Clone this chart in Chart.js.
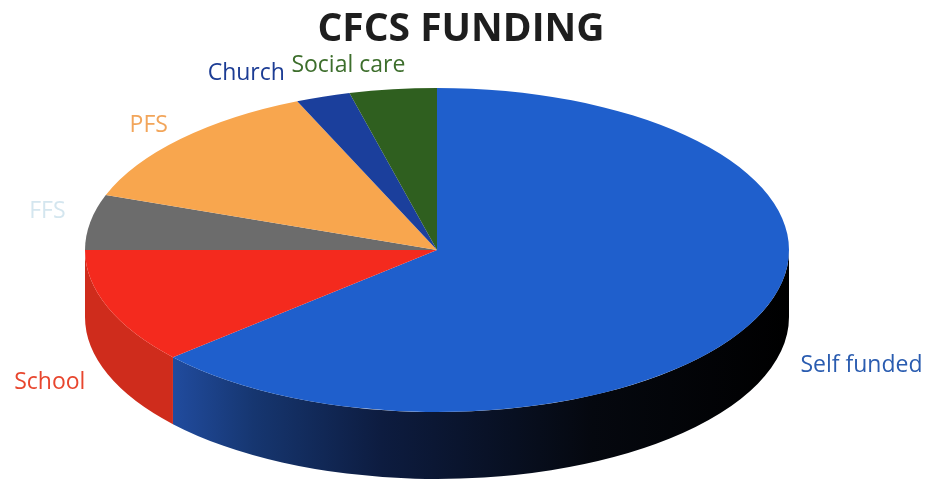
<!DOCTYPE html>
<html>
<head>
<meta charset="utf-8">
<script src="https://cdn.jsdelivr.net/npm/chart.js@4"></script>
<style>
  body { margin: 0; background: #fff; }
  #wrap { width: 929px; height: 490px; }
</style>
</head>
<body>
<div id="wrap"><canvas id="pieChart" width="929" height="490"></canvas></div>
<script>
// funding split, % of total
const chartTitle = 'CFCS FUNDING';
const labels = ['Self funded', 'School', 'FFS', 'PFS', 'Church', 'Social care'];
const shares = [63.5, 11.5, 5.5, 13, 2.5, 4];
const sliceColors = ['#1f5fcc', '#f42a1e', '#6c6c6c', '#f8a64e', '#1b3f9c', '#2f5f1f'];
const labelColors = ['#2a5cb0', '#e8462e', '#d4e6ef', '#f2a55a', '#1c3c94', '#3d6e2c'];
// small hand tweaks so labels sit like the old office chart did
const labelNudge = [[17, 16], [4, 47], [3, -8], [8, -5], [-29, -11], [16, -11]];

// fake 3d: stretch the round pie sideways into an ellipse and add a rim below it
const pie3d = {
    id: 'pie3d',
    beforeDatasetsDraw(chart, args, opts) {
        const ctx = chart.ctx;
        const arcs = chart.getDatasetMeta(0).data;
        const x = arcs[0].x, y = arcs[0].y, r = arcs[0].outerRadius;
        ctx.save();
        ctx.translate(x, 0);
        ctx.scale(opts.stretch, 1);
        ctx.translate(-x, 0);
        arcs.forEach((arc, i) => {
            const a = Math.max(arc.startAngle, 0);
            const b = Math.min(arc.endAngle, Math.PI);
            if (b <= a) return;
            ctx.beginPath();
            ctx.arc(x, y, r, a, b);
            ctx.arc(x, y + opts.depth, r, b, a, true);
            ctx.closePath();
            if (i === 0) {
                const g = ctx.createLinearGradient(x - r, 0, x + r, 0);
                g.addColorStop(0.1, '#2350a8');
                g.addColorStop(0.24, '#163670');
                g.addColorStop(0.42, '#0d1c40');
                g.addColorStop(0.72, '#05080f');
                g.addColorStop(1, '#000000');
                ctx.fillStyle = g;
            } else {
                ctx.fillStyle = opts.sides[i];
            }
            ctx.fill();
        });
    },
    afterDatasetsDraw(chart) {
        chart.ctx.restore();
    },
    afterDraw(chart, args, opts) {
        const ctx = chart.ctx;
        const arcs = chart.getDatasetMeta(0).data;
        ctx.save();
        ctx.textBaseline = 'middle';
        ctx.textAlign = 'center';
        ctx.fillStyle = '#1e1e1e';
        ctx.font = 'bold 39px "Open Sans"';
        ctx.fillText(chartTitle, 461, 30);

        ctx.font = '23px "Open Sans"';
        arcs.forEach((arc, i) => {
            const mid = (arc.startAngle + arc.endAngle) / 2;
            const c = Math.cos(mid), s = Math.sin(mid);
            const px = arc.x + c * arc.outerRadius * opts.stretch * opts.reach;
            const py = arc.y + s * arc.outerRadius * opts.reach + (s > 0 ? s * opts.depth : 0);
            ctx.textAlign = c >= 0 ? 'left' : 'right';
            ctx.fillStyle = labelColors[i];
            ctx.fillText(labels[i], px + labelNudge[i][0], py + labelNudge[i][1]);
        });
        ctx.restore();
    }
};

const ctx = document.getElementById('pieChart').getContext('2d');
const myChart = new Chart(ctx, {
    type: 'pie',
    data: {
        labels: labels,
        datasets: [{
            data: shares,
            backgroundColor: sliceColors,
            borderWidth: 0,
            clip: false
        }]
    },
    options: {
        responsive: false,
        animation: false,
        layout: { padding: { top: 88, bottom: 78, left: 0, right: 55 } },
        plugins: {
            legend: { display: false },
            tooltip: { enabled: false },
            title: { display: false },
            pie3d: {
                stretch: 352 / 162,
                depth: 67,
                reach: 1.08,
                sides: ['#000', '#cf2c1c', '#505050', '#c8853c', '#122c70', '#1f4214']
            }
        }
    },
    plugins: [pie3d]
});
</script>
</body>
</html>
